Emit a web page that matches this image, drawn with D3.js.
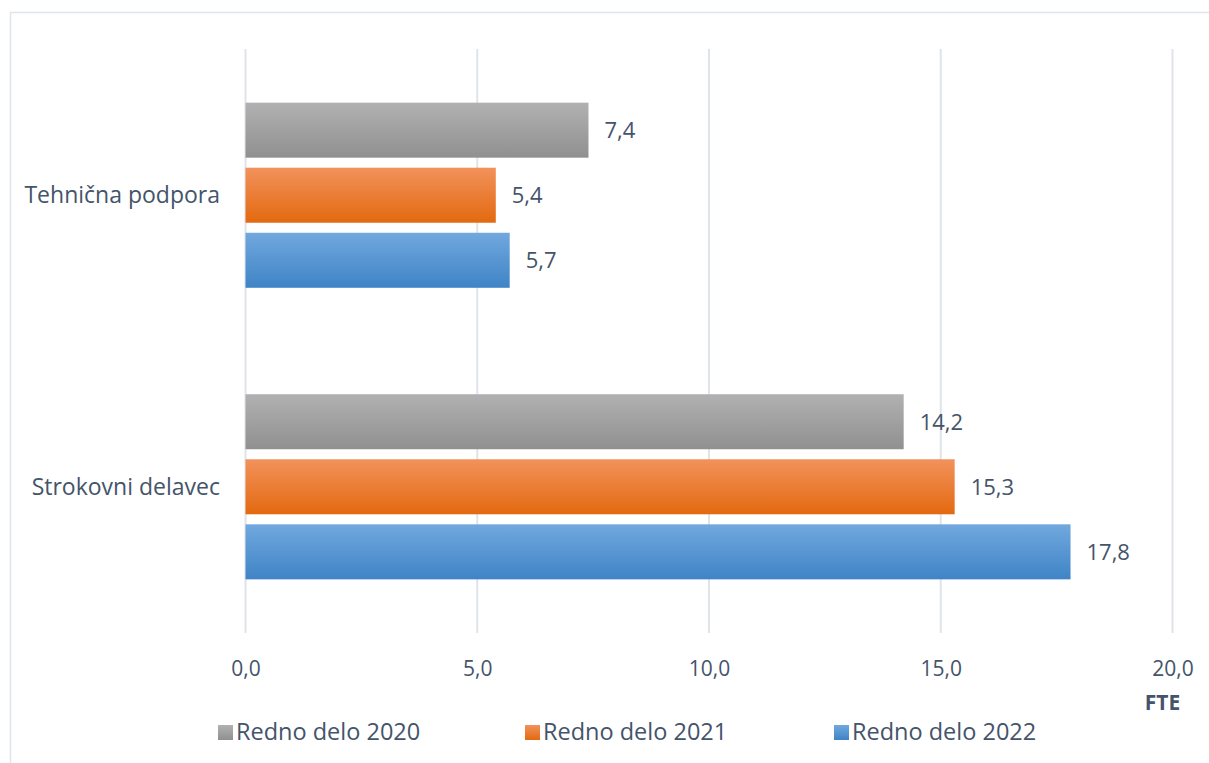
<!DOCTYPE html>
<html><head><meta charset="utf-8">
<script src="https://cdn.jsdelivr.net/npm/d3@7"></script>
<style>body{margin:0;background:#fff;}svg{display:block;font-family:"Open Sans",sans-serif;}</style>
</head><body><svg id="c" width="1209" height="763"></svg>
<script>
const categories = ["Tehnična podpora", "Strokovni delavec"];
const seriesNames = ["Redno delo 2020", "Redno delo 2021", "Redno delo 2022"];
const values2020 = [7.4, 14.2];
const values2021 = [5.4, 15.3];
const values2022 = [5.7, 17.8];
const tickValues = [0, 5, 10, 15, 20];
const axisTitle = "FTE";

const series = [values2020, values2021, values2022];
const grads = [["#b1b1b1", "#909090"], ["#f2925c", "#e3690f"], ["#71a8de", "#3f84c6"]];
const textColor = "#44546a";
const fmt = v => d3.format(".1f")(v).replace(".", ",");

const svg = d3.select("#c");
const defs = svg.append("defs");
grads.forEach((g, i) => {
  const lg = defs.append("linearGradient").attr("id", "g" + i).attr("x1", 0).attr("y1", 0).attr("x2", 0).attr("y2", 1);
  lg.append("stop").attr("offset", "0%").attr("stop-color", g[0]);
  lg.append("stop").attr("offset", "100%").attr("stop-color", g[1]);
});

// outer border
svg.append("rect").attr("x", 10.5).attr("y", 12.5).attr("width", 1220).attr("height", 780)
  .attr("fill", "none").attr("stroke", "#dfe3ea").attr("stroke-width", 1.5);

const x = d3.scaleLinear().domain([0, 20]).range([245.5, 1172.5]);
const yTop = 49, yBot = 633;
const y0 = d3.scaleBand().domain(categories).range([yTop, yBot]).paddingInner(0.365).paddingOuter(0.184);
const y1 = d3.scaleBand().domain(d3.range(3)).range([0, y0.bandwidth()]).paddingInner(0.154).paddingOuter(0);

// gridlines
svg.append("g").selectAll("line").data(tickValues).join("line")
  .attr("x1", d => x(d)).attr("x2", d => x(d)).attr("y1", yTop).attr("y2", yBot)
  .attr("stroke", "#dfe3ea").attr("stroke-width", 2);

// bars
categories.forEach((cat, ci) => {
  series.forEach((s, si) => {
    const yy = y0(cat) + y1(si);
    svg.append("rect").attr("x", x(0)).attr("y", yy).attr("width", x(s[ci]) - x(0)).attr("height", y1.bandwidth())
      .attr("fill", `url(#g${si})`);
    svg.append("text").attr("x", x(s[ci]) + 16).attr("y", yy + y1.bandwidth() / 2 + 8)
      .attr("fill", textColor).attr("font-size", 22).text(fmt(s[ci]));
  });
  svg.append("text").attr("x", 220).attr("y", y0(cat) + y0.bandwidth() / 2 + 8)
    .attr("text-anchor", "end").attr("fill", textColor).attr("font-size", 23).text(cat);
});

// x axis tick labels
const axis = d3.axisBottom(x).tickValues(tickValues).tickFormat(fmt).tickSize(0).tickPadding(0);
const ag = svg.append("g").attr("transform", `translate(0,${yBot})`).call(axis);
ag.select(".domain").remove();
ag.selectAll("text").attr("font-family", "Open Sans").attr("font-size", 21).attr("fill", textColor)
  .attr("dy", 0).attr("y", 43);

svg.append("text").attr("x", x(20) - 10).attr("y", 710).attr("text-anchor", "middle")
  .attr("font-weight", "bold").attr("font-size", 21).attr("fill", textColor).text(axisTitle);

// legend
const legX = [218, 525, 834];
seriesNames.forEach((n, i) => {
  svg.append("rect").attr("x", legX[i]).attr("y", 725).attr("width", 15).attr("height", 15).attr("fill", `url(#g${i})`);
  svg.append("text").attr("x", legX[i] + 18).attr("y", 740).attr("fill", textColor).attr("font-size", 23.5).text(n);
});
</script></body></html>
